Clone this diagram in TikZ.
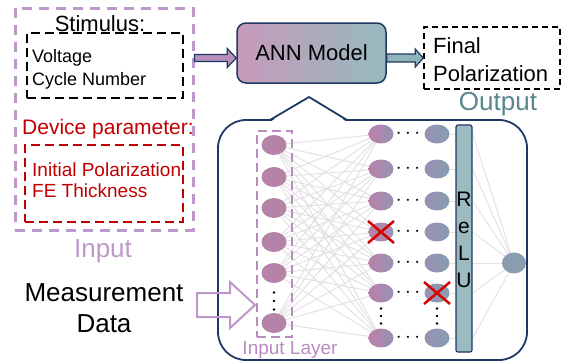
\documentclass[tikz,border=0pt]{standalone}
\usepackage{fontspec}
\setmainfont{Liberation Sans}
\usetikzlibrary{arrows.meta,positioning,calc,shapes.geometric,backgrounds}

\definecolor{inpurple}{RGB}{190,152,200}
\definecolor{layerpurple}{RGB}{184,140,190}
\definecolor{devred}{RGB}{192,0,0}
\definecolor{navy}{RGB}{31,56,100}
\definecolor{outteal}{RGB}{88,134,140}
\definecolor{annleft}{RGB}{198,154,186}
\definecolor{annright}{RGB}{150,186,190}
\definecolor{relufill}{RGB}{155,187,192}
\definecolor{arrowpurple}{RGB}{182,143,189}
\definecolor{arrowteal}{RGB}{143,181,186}
\definecolor{inneuron}{RGB}{181,130,168}
\definecolor{hidA}{RGB}{186,128,170}
\definecolor{hidB}{RGB}{152,146,180}
\definecolor{hidC}{RGB}{136,156,176}
\definecolor{outneuron}{RGB}{138,157,176}
\definecolor{wire}{RGB}{226,226,226}

\newcommand{\setfs}[2]{\fontsize{#1}{#2}\selectfont}

\begin{document}
\begin{tikzpicture}[x=1pt, y=-1pt,
    inputbox/.style={
        rectangle, draw=inpurple, line width=3pt, dash pattern=on 10pt off 7pt,
        minimum width=178pt, minimum height=222pt, inner sep=0pt
    },
    stimbox/.style={
        rectangle, draw=black, line width=2.5pt, dash pattern=on 9pt off 5pt, inner sep=0pt
    },
    devbox/.style={stimbox, draw=devred},
    model/.style={
        rectangle, rounded corners=9pt, draw=navy, line width=1.5pt,
        left color=annleft, right color=annright,
        minimum width=149pt, minimum height=60pt, font=\setfs{22}{26}
    },
    outbox/.style={
        rectangle, draw=black, line width=1.5pt, dash pattern=on 6pt off 4pt,
        minimum width=136pt, minimum height=62pt, inner sep=0pt
    },
    netbox/.style={
        rectangle, rounded corners=28pt, draw=navy, line width=1.8pt,
        minimum width=309pt, minimum height=240pt, inner sep=0pt
    },
    layerbox/.style={
        rectangle, draw=layerpurple, line width=2.5pt, dash pattern=on 9pt off 5pt,
        minimum width=35pt, minimum height=206pt, inner sep=0pt
    },
    inneuron/.style={ellipse, fill=inneuron, minimum width=25pt, minimum height=20pt, inner sep=0pt},
    hidneuronA/.style={ellipse, left color=hidA, right color=hidB, minimum width=25pt, minimum height=19pt, inner sep=0pt},
    hidneuronB/.style={ellipse, left color=hidB, right color=hidC, minimum width=25pt, minimum height=19pt, inner sep=0pt},
    outneuron/.style={ellipse, fill=outneuron, minimum width=24pt, minimum height=21pt, inner sep=0pt},
    relubar/.style={
        rectangle, rounded corners=2pt, draw=navy, line width=1.2pt, fill=relufill,
        minimum width=16pt, minimum height=227pt, inner sep=0pt
    },
    blockarrow/.style={draw=navy, line width=1.2pt, line join=miter},
    hollowarrow/.style={draw=inpurple, line width=2pt, line join=miter},
    wire/.style={draw=wire, line width=1pt},
    cross/.style={draw=red!85!black, line width=2.5pt},
    hdots/.style={font=\setfs{20}{20}, inner sep=0pt},
    vdot/.style={fill=black}
]
\useasboundingbox (0,0) rectangle (561,362);

% input side
\node[inputbox] (inbox) at (104,119) {};
\node[stimbox, minimum width=156pt, minimum height=65pt] (stimbox) at (105,65.5) {};
\node[font=\setfs{22}{26}, inner sep=0pt] (stim) at (100,24) {Stimulus:};
\node[font=\setfs{18}{23}, align=left, anchor=west, inner sep=0pt] (stimtxt) at (32,69) {Voltage\\Cycle Number};
\node[font=\setfs{21}{24}, text=devred, inner sep=0pt] (dev) at (108,129) {Device parameter:};
\node[devbox, minimum width=158pt, minimum height=77pt] (devbox) at (104,183.5) {};
\node[font=\setfs{19}{21}, text=devred, align=left, anchor=west, inner sep=0pt] (devtxt) at (32,180.5) {Initial Polarization\\FE Thickness};
\node[font=\setfs{26}{30}, text=inpurple, inner sep=0pt] (inlabel) at (103,251) {Input};

% model and output
\node[model] (ann) at (311.5,53) {ANN Model};
\node[outbox] (final) at (492,58) {};
\node[font=\setfs{22}{28}, align=left, anchor=west, inner sep=0pt] (finaltxt) at (433,60) {Final\\Polarization};
\node[font=\setfs{26}{30}, text=outteal, inner sep=0pt] (outlabel) at (498,104) {Output};

% block arrows
\coordinate (a1s) at ($(inbox.east |- ann.west)+(0,5)$);
\coordinate (a1e) at ($(ann.west)+(0,5)$);
\draw[blockarrow, fill=arrowpurple] ($(a1s)+(0,-3.5)$) -- ($(a1e)+(-9,-3.5)$) -- ($(a1e)+(-9,-9.5)$)
    -- (a1e) -- ($(a1e)+(-9,9.5)$) -- ($(a1e)+(-9,3.5)$) -- ($(a1s)+(0,3.5)$) -- cycle;
\coordinate (a2s) at (ann.east |- final.west);
\coordinate (a2e) at (final.west);
\draw[blockarrow, fill=arrowteal] ($(a2s)+(0,-4)$) -- ($(a2e)+(-8,-4)$) -- ($(a2e)+(-8,-9)$)
    -- (a2e) -- ($(a2e)+(-8,9)$) -- ($(a2e)+(-8,4)$) -- ($(a2s)+(0,4)$) -- cycle;

% network callout
\node[netbox] (net) at (372.5,240) {};
\fill[white] (270,122) -- (309,97) -- (347,122) -- cycle;
\draw[navy, line width=1.8pt, line join=miter] (270,120) -- (309,97) -- (347,120);

% layers
\node[layerbox] (inlayer) at (274.5,234) {};
\node[font=\setfs{19}{22}, text=layerpurple, inner sep=0pt] (layerlabel) at (290,350) {Input Layer};
\foreach \y [count=\i] in {145,177,208,242,273,323}
    \node[inneuron] (in-\i) at (274,\y) {};
\foreach \y [count=\j] in {134,169,201,232,263,293,338} {
    \node[hidneuronA] (ha-\j) at (381,\y) {};
    \node[hidneuronB] (hb-\j) at (437,\y) {};
    \node[hdots] (dots-\j) at (408,\y) {$\cdots$};
}
% vertical dots
\coordinate (indots) at (274,301);
\coordinate (hadots) at (381,316);
\coordinate (hbdots) at (437,316);
\foreach \c/\d in {indots/8.5, hadots/7.5, hbdots/7.5}
    \foreach \k in {-1,0,1}
        \fill[vdot] ($(\c)+(0,\k*\d)$) circle (1.4);
\node[relubar] (relu) at (464,238.5) {};
\node[font=\setfs{21}{27}, align=center, inner sep=0pt] (relutxt) at (464,240) {R\\e\\L\\U};
\node[outneuron] (out) at (514,263) {};

% dropped neurons
\draw[cross] ($(ha-4)+(-13,-11)$) -- ($(ha-4)+(13,11)$);
\draw[cross] ($(ha-4)+(-13,11)$) -- ($(ha-4)+(13,-11)$);
\draw[cross] ($(hb-6)+(-13,-11)$) -- ($(hb-6)+(13,11)$);
\draw[cross] ($(hb-6)+(-13,11)$) -- ($(hb-6)+(13,-11)$);

% connections
\begin{scope}[on background layer]
\foreach \i in {1,...,6}
    \foreach \j in {1,...,7}
        \draw[wire] (in-\i) -- (ha-\j);
\foreach \j in {1,...,7} {
    \draw[wire] (hb-\j) -- (hb-\j -| relu.west);
    \draw[wire] (relu.east |- hb-\j) -- (out);
}
\end{scope}

% measurement data
\node[font=\setfs{26}{31}, align=center, inner sep=0pt] (meas) at (104,308) {Measurement\\Data};
\coordinate (mtail) at (197,305);
\coordinate (mtip) at (255,305);
\draw[hollowarrow] ($(mtail)+(0,-12)$) -- ($(mtip)+(-25,-12)$) -- ($(mtip)+(-25,-23)$)
    -- (mtip) -- ($(mtip)+(-25,23)$) -- ($(mtip)+(-25,12)$) -- ($(mtail)+(0,12)$) -- cycle;

\end{tikzpicture}
\end{document}
